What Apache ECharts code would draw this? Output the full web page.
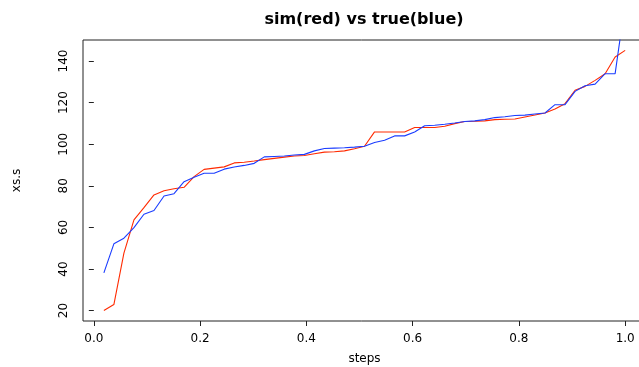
<!DOCTYPE html>
<html>
<head>
<meta charset="utf-8">
<script src="https://cdn.jsdelivr.net/npm/echarts@6/dist/echarts.min.js"></script>
<style>html,body{margin:0;padding:0;background:#fff}#c{width:639px;height:367px}</style>
</head>
<body>
<div id="c"></div>
<script>
var steps = [0.0189,0.0377,0.0566,0.0755,0.0943,0.1132,0.1321,0.1509,0.1698,0.1887,
0.2075,0.2264,0.2453,0.2642,0.2830,0.3019,0.3208,0.3396,0.3585,0.3774,
0.3962,0.4151,0.4340,0.4528,0.4717,0.4906,0.5094,0.5283,0.5472,0.5660,
0.5849,0.6038,0.6226,0.6415,0.6604,0.6792,0.6981,0.7170,0.7358,0.7547,
0.7736,0.7925,0.8113,0.8302,0.8491,0.8679,0.8868,0.9057,0.9245,0.9434,
0.9623,0.9811,1.0];
var simRed = [20,22.9,47.6,63.6,69.5,75.6,77.6,78.6,79.3,84.4,
87.9,88.5,89.1,91.0,91.3,91.9,92.6,93.2,93.8,94.3,
94.6,95.4,96.2,96.4,96.8,97.8,99.0,105.9,105.9,105.9,
105.9,108.0,108.0,108.0,108.6,109.9,110.9,111.0,111.2,111.8,
112.0,112.1,113.1,114.0,115.0,116.9,119.5,125.9,127.8,130.7,
133.9,141.9,145.1];
var trueBlue = [38.1,52.1,54.8,59.9,66.3,68.1,75.1,76.2,82.0,84.1,
86.0,86.0,88.0,89.0,89.8,90.8,93.9,94.1,94.3,94.8,
95.1,96.8,97.9,98.1,98.3,98.6,99.0,100.8,101.9,104.0,
104.0,105.9,108.9,109.1,109.6,110.2,110.9,111.2,111.8,112.8,
113.2,113.8,114.0,114.5,115.0,119.0,119.0,125.4,128.1,128.9,
133.9,133.9,168];
var xTicks = [0, 0.2, 0.4, 0.6, 0.8, 1.0];
var yTicks = [20, 40, 60, 80, 100, 120, 140];

function pairs(xs, ys){ return xs.map(function(x,i){return [x, ys[i]];}); }

var chart = echarts.init(document.getElementById('c'), null, {renderer:'canvas'});
var font = 'DejaVu Sans';
chart.setOption({
  animation:false,
  backgroundColor:'#fff',
  title:{
    text:'sim(red) vs true(blue)',
    left:359, top:7, textAlign:'center',
    textStyle:{fontFamily:font, fontWeight:'bold', fontSize:16, color:'#000'}
  },
  grid:{left:83, top:40, width:563, height:281, show:true, borderColor:'#222', borderWidth:1,
        backgroundColor:'transparent', outerBoundsMode:'none', containLabel:false},
  xAxis:{
    type:'value', min:-0.0204, max:1.0392,
    name:'steps', nameLocation:'middle', nameGap:32,
    nameTextStyle:{fontFamily:font, fontSize:12, color:'#000'},
    axisLine:{show:false},
    splitLine:{show:false},
    axisTick:{show:true, length:5, customValues:xTicks, lineStyle:{color:'#222'}},
    axisLabel:{customValues:xTicks, margin:12, fontFamily:font, fontSize:12, color:'#000',
      formatter:function(v){return v.toFixed(1);}}
  },
  yAxis:{
    type:'value', min:14.996, max:150.1,
    name:'xs.s', nameLocation:'middle', nameGap:60, nameRotate:90,
    nameTextStyle:{fontFamily:font, fontSize:12, color:'#000'},
    axisLine:{show:false},
    splitLine:{show:false},
    axisTick:{show:true, length:5, customValues:yTicks, lineStyle:{color:'#222'}},
    axisLabel:{customValues:yTicks, rotate:90, margin:13, fontFamily:font, fontSize:12, color:'#000'}
  },
  series:[
    {type:'line', data:pairs(steps, simRed), showSymbol:false, symbol:'none', clip:true,
     lineStyle:{color:'#ff2a00', width:1.1}, itemStyle:{color:'#ff2a00'}},
    {type:'line', data:pairs(steps, trueBlue), showSymbol:false, symbol:'none', clip:true,
     lineStyle:{color:'#1a3cff', width:1.1}, itemStyle:{color:'#1a3cff'}}
  ]
});
</script>
</body>
</html>
